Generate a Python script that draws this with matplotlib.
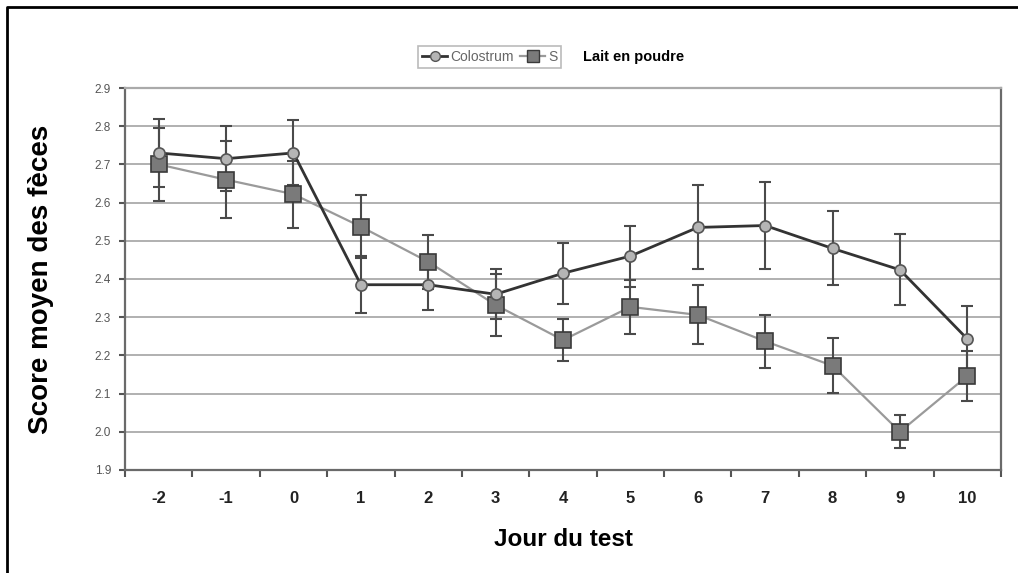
import numpy as np
import matplotlib.pyplot as plt
from matplotlib.lines import Line2D

plt.rcParams['font.family'] = ['Liberation Sans', 'DejaVu Sans']

# Données
jours = ['-2', '-1', '0', '1', '2', '3', '4', '5', '6', '7', '8', '9', '10']
colostrum = [2.73, 2.715, 2.73, 2.385, 2.385, 2.36, 2.415, 2.46, 2.535, 2.54, 2.48, 2.424, 2.243]
colostrum_err = [0.09, 0.085, 0.085, 0.075, 0.065, 0.065, 0.08, 0.08, 0.11, 0.115, 0.097, 0.093, 0.086]
lait = [2.70, 2.66, 2.622, 2.537, 2.445, 2.332, 2.24, 2.327, 2.306, 2.237, 2.173, 2.0, 2.146]
lait_err = [0.095, 0.10, 0.088, 0.083, 0.07, 0.08, 0.055, 0.07, 0.077, 0.07, 0.072, 0.043, 0.065]

fig = plt.figure(figsize=(10.18, 5.73), dpi=100)
ax = fig.add_axes([0.1228, 0.1798, 0.8605, 0.6666])

x = np.arange(len(jours))

# grille horizontale
for v in np.arange(2.0, 2.95, 0.1):
    ax.axhline(v, color='#b0b0b0', lw=1.4, zorder=0)

ax.errorbar(x, colostrum, yerr=colostrum_err, fmt='none', ecolor='#4a4a4a',
            elinewidth=1.5, capsize=4, capthick=1.5, zorder=2)
ax.errorbar(x, lait, yerr=lait_err, fmt='none', ecolor='#4a4a4a',
            elinewidth=1.5, capsize=4, capthick=1.5, zorder=2)

ax.plot(x, lait, color='#9a9a9a', lw=1.6, marker='s', markersize=11,
        markerfacecolor='#7a7a7a', markeredgecolor='#3a3a3a', markeredgewidth=1.2, zorder=3)
ax.plot(x, colostrum, color='#333333', lw=2.0, marker='o', markersize=8,
        markerfacecolor='#b5b5b5', markeredgecolor='#555555', markeredgewidth=1.2, zorder=4)

ax.set_xlim(-0.5, len(jours) - 0.5)
ax.set_ylim(1.9, 2.9)

ax.set_xticks(np.arange(-0.5, len(jours), 1.0))
ax.set_xticklabels([])
ax.set_xticks(x, minor=True)
ax.set_xticklabels(jours, minor=True, fontsize=12, fontweight='bold', color='#222222')
ax.tick_params(axis='x', which='major', length=5, width=1.5, color='#555555', direction='out')
ax.tick_params(axis='x', which='minor', length=0, pad=15)

ax.set_yticks(np.arange(1.9, 2.95, 0.1))
ax.set_yticklabels(['%.1f' % v for v in np.arange(1.9, 2.95, 0.1)], fontsize=8.5, color='#555555')
ax.tick_params(axis='y', length=4, width=1.5, color='#555555', direction='out', pad=6)

for s in ax.spines.values():
    s.set_color('#6a6a6a')
    s.set_linewidth(1.6)
ax.spines['top'].set_color('#aaaaaa')

ax.set_ylabel('Score moyen des fèces', fontsize=20, fontweight='bold')
ax.set_xlabel('Jour du test', fontsize=17.5, fontweight='bold', labelpad=16)
ax.yaxis.set_label_coords(-0.081, 0.5)

handles = [
    Line2D([], [], color='#333333', lw=2, marker='o', markersize=7,
           markerfacecolor='#b5b5b5', markeredgecolor='#555555'),
    Line2D([], [], color='#9a9a9a', lw=1.6, marker='s', markersize=8,
           markerfacecolor='#7a7a7a', markeredgecolor='#3a3a3a'),
]
leg = fig.legend(handles, ['Colostrum', 'S'], loc='center', bbox_to_anchor=(0.481, 0.9005),
                 ncol=2, fontsize=10, frameon=True, fancybox=False, handlelength=1.8,
                 handletextpad=0.2, columnspacing=0.5, borderpad=0.3)
leg.get_frame().set_edgecolor('#aaaaaa')
leg.get_frame().set_linewidth(1.2)
for t in leg.get_texts():
    t.set_color('#666666')

fig.text(0.5727, 0.9005, 'Lait en poudre', fontsize=10.5, fontweight='bold', va='center', ha='left')

# cadre noir
bx = 7 / 1018
by = 1 - 7 / 573
fig.add_artist(Line2D([bx, bx, 1.0], [0.0, by, by], color='black', lw=2, transform=fig.transFigure))

fig.savefig('out.png', dpi=100)
